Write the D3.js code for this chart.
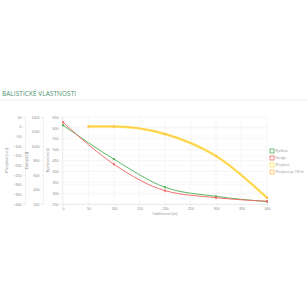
<!DOCTYPE html>
<html>
<head>
<meta charset="utf-8">
<script src="https://cdn.jsdelivr.net/npm/d3@7"></script>
<style>
  body { margin: 0; background: #fff; }
  svg { display: block; font-family: "Open Sans", "DejaVu Sans", sans-serif; }
</style>
</head>
<body>
<svg id="chart" width="307" height="307"></svg>
<script>
// data
const distances = [0, 100, 200, 300, 400];
const velocity = [612, 456, 327, 285, 261];
const energy = [1327, 748, 384, 287, 238];
const dropDistances = [50, 100, 200, 300, 400];
const drop = [1, 1, -38, -152, -368];
const dropAfter = [1, 1, -38, -152, -368];

const xTicks = [0, 50, 100, 150, 200, 250, 300, 350, 400];
const velTicks = [650, 600, 550, 500, 450, 400, 350, 300, 250];
const energyTicks = [1400, 1200, 1000, 800, 600, 400, 200];
const dropTicks = [50, 0, -50, -100, -150, -200, -250, -300, -350, -400];

const legendItems = [
  { label: 'Rychlost', color: '#4caf50' },
  { label: 'Energie', color: '#f26262' },
  { label: 'Převýšení', color: '#ffe45c' },
  { label: 'Převýšení po 100 m', color: '#ffbf4a' }
];

const svg = d3.select('#chart');
const plotTop = 117, plotBottom = 204, plotLeft = 63, plotRight = 267;

const x = d3.scaleLinear().domain([0, 400]).range([plotLeft, plotRight]);
const yVel = d3.scaleLinear().domain([250, 650]).range([plotBottom, plotTop]);
const yEn = d3.scaleLinear().domain([200, 1400]).range([plotBottom, plotTop]);
const yDrop = d3.scaleLinear().domain([-400, 50]).range([plotBottom, plotTop]);

// title
svg.append('text').attr('x', 2).attr('y', 96)
  .attr('font-size', 6.4).attr('fill', '#4a9070').attr('letter-spacing', 0.1)
  .text('BALISTICKÉ VLASTNOSTI');
svg.append('line').attr('x1', 0).attr('x2', 307).attr('y1', 100).attr('y2', 100)
  .attr('stroke', '#e6e6e6').attr('stroke-width', 0.8);

// grid
const grid = svg.append('g').attr('stroke', '#ececec').attr('stroke-width', 0.5);
velTicks.forEach(t => grid.append('line').attr('x1', plotLeft).attr('x2', plotRight)
  .attr('y1', yVel(t)).attr('y2', yVel(t)));
dropTicks.forEach(t => grid.append('line').attr('x1', plotLeft).attr('x2', plotRight)
  .attr('y1', yDrop(t)).attr('y2', yDrop(t)).attr('stroke', '#f4f4f4'));
xTicks.forEach(t => grid.append('line').attr('x1', x(t)).attr('x2', x(t))
  .attr('y1', plotTop).attr('y2', plotBottom + 2));

// y axes
function yAxis(scale, ticks, xPos, title, titleX) {
  const g = svg.append('g').attr('transform', `translate(${xPos},0)`);
  g.call(d3.axisLeft(scale).tickValues(ticks).tickFormat(d3.format('d')).tickSize(2).tickPadding(1.5));
  g.select('.domain').attr('stroke', '#e0e0e0').attr('stroke-width', 0.5);
  g.selectAll('.tick line').attr('stroke', '#e0e0e0').attr('stroke-width', 0.5);
  g.selectAll('.tick text').attr('font-size', 3.6).attr('fill', '#8a8a8a');
  svg.append('text').attr('transform', `translate(${titleX},${(plotTop + plotBottom) / 2}) rotate(-90)`)
    .attr('text-anchor', 'middle').attr('font-size', 3.6).attr('fill', '#8a8a8a').text(title);
}
yAxis(yDrop, dropTicks, 25, 'Převýšení [cm]', 8);
yAxis(yEn, energyTicks, 43, 'Energie [J]', 28);
yAxis(yVel, velTicks, 62, 'Rychlost [m/s]', 49);

// x axis
const gx = svg.append('g').attr('transform', `translate(0,${plotBottom})`);
gx.call(d3.axisBottom(x).tickValues(xTicks).tickSize(2).tickPadding(1.5));
gx.select('.domain').attr('stroke', '#e0e0e0').attr('stroke-width', 0.5);
gx.selectAll('.tick line').attr('stroke', '#e0e0e0').attr('stroke-width', 0.5);
gx.selectAll('.tick text').attr('font-size', 3.6).attr('fill', '#8a8a8a');
svg.append('text').attr('x', (plotLeft + plotRight) / 2).attr('y', 215).attr('text-anchor', 'middle')
  .attr('font-size', 3.6).attr('fill', '#8a8a8a').text('Vzdálenost [m]');

// series
function series(xs, ys, yScale, color, width) {
  const pts = xs.map((d, i) => [x(d), yScale(ys[i])]);
  svg.append('path').attr('d', d3.line().curve(d3.curveMonotoneX)(pts))
    .attr('fill', 'none').attr('stroke', color).attr('stroke-width', width);
  svg.append('g').selectAll('rect').data(pts).join('rect')
    .attr('x', d => d[0] - 1).attr('y', d => d[1] - 1).attr('width', 2).attr('height', 2)
    .attr('fill', color);
}
series(dropDistances, drop, yDrop, '#ffe45c', 2.4);
series(dropDistances, dropAfter, yDrop, '#ffbf4a', 0.8);
series(distances, velocity, yVel, '#4caf50', 0.9);
series(distances, energy, yEn, '#f26262', 0.9);

// legend
const lg = svg.append('g').attr('transform', 'translate(270,149)');
legendItems.forEach((d, i) => {
  lg.append('rect').attr('x', 0).attr('y', i * 7).attr('width', 4).attr('height', 4)
    .attr('fill', '#fff').attr('stroke', d.color).attr('stroke-width', 0.8);
  lg.append('text').attr('x', 5.5).attr('y', i * 7 + 3.2).attr('font-size', 3.1)
    .attr('fill', '#8a8a8a').text(d.label);
});
</script>
</body>
</html>
